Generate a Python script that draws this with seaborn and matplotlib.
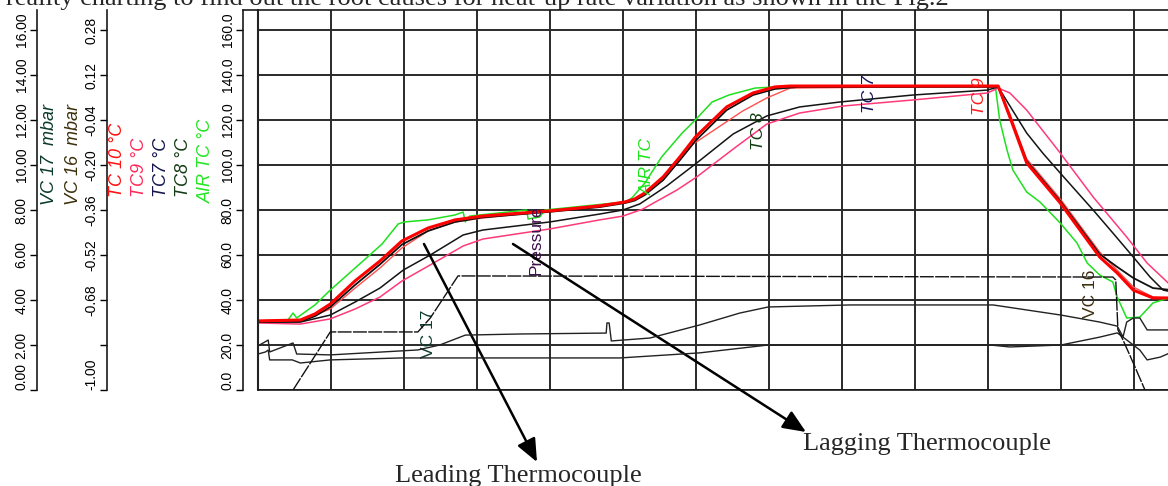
import numpy as np
import pandas as pd
import seaborn as sns
import matplotlib.pyplot as plt

# time in chart divisions (one grid square = one division)
t_tc10 = [0, 0.58, 0.78, 0.99, 1.33, 1.67, 1.97, 2.33, 2.70, 3.07, 4.00, 4.68, 5.03, 5.16, 5.30, 5.55,
          5.78, 5.99, 6.42, 6.78, 7.08, 7.29, 10.14, 10.30, 10.53, 10.99, 11.53, 11.77, 11.99, 12.26, 12.52]
tc10 = [30.7, 31.1, 33.8, 38.2, 48.5, 57.3, 66.2, 72.0, 75.6, 77.3, 79.6, 81.8, 83.6, 84.9, 87.6, 94.7,
        103.6, 112.4, 125.8, 132.0, 134.7, 135.1, 135.1, 121.3, 100.9, 83.1, 59.1, 52.0, 44.4, 40.9, 40.9]

t_tc_spare = [0, 0.58, 0.99, 1.33, 1.67, 1.97, 2.33, 2.70, 3.07, 4.00, 5.03, 5.23, 5.55, 5.96, 6.33, 6.64,
              6.97, 7.29, 10.14, 10.30, 10.53, 10.99, 11.53, 11.99, 12.26, 12.52]
tc_spare = [30.7, 30.7, 36.0, 45.3, 54.2, 63.1, 70.7, 74.7, 76.4, 79.6, 83.6, 85.8, 93.3, 109.3, 117.3, 124.0,
            129.8, 134.2, 135.1, 122.7, 102.7, 84.9, 61.3, 45.8, 41.3, 40.9]

t_tc7 = [0, 0.58, 0.78, 0.99, 1.33, 1.67, 1.97, 2.33, 2.70, 3.07, 4.00, 4.68, 5.03, 5.16, 5.30, 5.55,
         5.78, 5.99, 6.42, 6.78, 7.08, 7.40, 10.14, 10.30, 10.53, 10.99, 11.53, 11.77, 11.99, 12.26, 12.52]
tc7 = [30.2, 30.4, 32.8, 36.9, 46.7, 55.8, 64.6, 70.7, 74.7, 76.7, 79.2, 81.3, 83.1, 84.2, 86.7, 93.3,
       102.2, 110.7, 124.4, 131.1, 133.8, 134.7, 134.7, 121.5, 101.8, 84.0, 60.4, 54.7, 49.8, 45.3, 44.4]

t_tc8 = [0, 0.58, 0.99, 1.33, 1.67, 1.99, 2.36, 2.81, 3.08, 4.00, 4.68, 5.00, 5.23, 5.60, 6.01, 6.51,
         6.97, 7.42, 7.97, 8.97, 9.99, 10.14, 10.19, 10.53, 10.75, 10.99, 11.44, 11.71, 11.99, 12.22, 12.40, 12.52]
tc8 = [30.2, 30.2, 33.3, 39.1, 45.3, 53.3, 60.0, 68.9, 71.1, 74.7, 78.2, 80.0, 82.7, 90.7, 100.9, 113.8,
       121.8, 125.8, 128.0, 131.1, 133.3, 134.7, 132.0, 114.2, 105.3, 96.4, 80.0, 69.8, 59.1, 50.2, 44.4, 43.6]

t_tc9 = [0, 0.58, 0.99, 1.33, 1.67, 1.97, 2.36, 2.81, 3.08, 4.00, 4.68, 5.00, 5.27, 5.74, 6.01, 6.51,
         6.97, 7.42, 8.01, 8.97, 9.99, 10.14, 10.30, 10.53, 10.99, 11.44, 11.90, 12.18, 12.52]
tc9 = [29.8, 29.3, 31.6, 36.0, 41.3, 48.4, 55.6, 64.0, 67.1, 71.6, 75.6, 77.3, 80.4, 88.9, 94.7, 107.1,
       118.2, 123.1, 126.2, 128.9, 132.0, 134.2, 132.0, 124.4, 105.3, 85.8, 68.0, 56.4, 46.0]

t_air = [0, 0.41, 0.48, 0.53, 0.78, 0.99, 1.33, 1.70, 1.92, 2.01, 2.33, 2.70, 2.81, 2.84, 2.90, 3.68,
         3.70, 3.86, 3.93, 5.03, 5.12, 5.30, 5.53, 5.81, 5.99, 6.22, 6.45, 6.81, 7.32, 10.10, 10.16, 10.26,
         10.34, 10.53, 10.71, 10.99, 11.22, 11.36, 11.53, 11.71, 11.77, 11.90, 12.08, 12.26, 12.52]
air = [30.7, 31.1, 34.2, 32.0, 37.8, 44.4, 54.2, 64.9, 73.8, 74.7, 75.6, 77.8, 79.1, 74.7, 77.3, 80.0,
       76.0, 76.9, 80.0, 83.6, 85.3, 92.0, 103.6, 114.2, 120.0, 128.0, 131.1, 134.2, 135.1, 135.1, 120.0, 106.7,
       97.8, 88.0, 83.6, 74.2, 65.3, 56.4, 51.1, 48.0, 41.3, 32.0, 32.4, 38.7, 41.3]

# vacuum channels (mbar)
t_vc17 = [0.48, 0.99, 2.19, 2.36, 2.74, 11.71, 11.75, 11.78, 11.85, 11.99, 12.15]
vc17 = [0.0, 2.58, 2.58, 3.20, 5.07, 5.02, 4.89, 2.67, 2.22, 1.20, 0.0]

t_vc16 = [0, 0.14, 0.16, 0.48, 0.53, 0.99, 2.19, 2.49, 2.84, 3.60, 4.77, 4.78, 4.81, 4.84, 5.37, 6.05,
          6.60, 6.99, 8.11, 10.07, 11.00, 11.53, 11.77, 11.85, 11.90, 11.99, 12.08, 12.18, 12.52]
vc16 = [1.96, 2.22, 1.69, 2.09, 1.60, 1.56, 1.78, 2.00, 2.44, 2.49, 2.53, 2.98, 2.98, 2.18, 2.31, 2.89,
        3.42, 3.69, 3.78, 3.78, 3.33, 3.02, 2.84, 2.36, 3.02, 3.20, 3.20, 2.67, 2.67]

# pressure (bar)
t_pres = [0, 0.10, 0.14, 0.16, 0.47, 0.58, 0.99, 1.97, 2.70, 4.96, 6.05, 6.99, 10.03, 10.30, 11.00,
          11.53, 11.77, 11.85, 12.08, 12.18, 12.36, 12.52]
pres = [-0.872, -0.865, -0.858, -0.893, -0.893, -0.904, -0.893, -0.886, -0.886, -0.886, -0.868, -0.840,
        -0.840, -0.847, -0.840, -0.812, -0.797, -0.812, -0.858, -0.893, -0.883, -0.865]

temp_ticks = np.arange(0, 161, 20)
vc_ticks = np.arange(0, 17, 2)
pres_ticks = np.round(-1 + 0.16 * np.arange(9), 2)

sns.set_style("white")
plt.rcParams['font.family'] = ['Liberation Sans', 'DejaVu Sans']

W, H = 1168, 486
fig = plt.figure(figsize=(W / 100, H / 100), dpi=100)


def fx(px):
    return px / W


def fy(py):
    return 1 - py / H


ax = fig.add_axes([fx(258), fy(390), (1172 - 258) / W, (390 - 10) / H])
ax_p = ax.twinx()
ax_v = ax.twinx()

# temperatures
sns.lineplot(x=t_air, y=air, ax=ax, color='#1fe01f', linewidth=1.1, sort=False, estimator=None)
sns.lineplot(x=t_tc9, y=tc9, ax=ax, color='#ff3a78', linewidth=1.1, sort=False, estimator=None)
sns.lineplot(x=t_tc8, y=tc8, ax=ax, color='#141414', linewidth=1.1, sort=False, estimator=None)
sns.lineplot(x=t_tc_spare, y=tc_spare, ax=ax, color='#ff5050', linewidth=1.0, sort=False, estimator=None)
sns.lineplot(x=t_tc7, y=tc7, ax=ax, color='#111111', linewidth=1.3, sort=False, estimator=None)
sns.lineplot(x=t_tc10, y=tc10, ax=ax, color='#ff0000', linewidth=2.2, sort=False, estimator=None)

# vacuum and pressure
sns.lineplot(x=t_vc17, y=vc17, ax=ax_v, color='#111111', linewidth=1.0, sort=False, estimator=None,
             linestyle=(0, (10, 1)))
sns.lineplot(x=t_vc16, y=vc16, ax=ax_v, color='#222222', linewidth=1.0, sort=False, estimator=None)
sns.lineplot(x=t_pres, y=pres, ax=ax_p, color='#222222', linewidth=1.0, sort=False, estimator=None)

xmax = (1172 - 258) / 73
ytop = 380 / 2.25
for a in (ax, ax_p, ax_v):
    a.set_xlim(0, xmax)
    a.set_xlabel('')
    a.set_ylabel('')
ax.set_ylim(0, ytop)
ax_v.set_ylim(0, ytop / 10)
ax_p.set_ylim(-1, -1 + ytop * 0.008)

# grid
ax.set_xticks(np.arange(0, 13))
ax.tick_params(axis='x', length=0, labelbottom=False)
ax.set_yticks(temp_ticks)
ax.grid(True, color='#2a2a2a', linewidth=1.4)
ax.set_axisbelow(True)
ax.axvline(0, color='#222222', linewidth=1.5, clip_on=False)

ax.set_yticklabels([f'{v:.1f}' for v in temp_ticks])
ax_v.set_yticks(vc_ticks)
ax_v.set_yticklabels([f'{v:.2f}' for v in vc_ticks])
ax_p.set_yticks(pres_ticks)
ax_p.set_yticklabels(['' if abs(v + 0.84) < 1e-6 else f'{v:.2f}' for v in pres_ticks])

for a in (ax_p, ax_v):
    for s in ('top', 'right', 'bottom'):
        a.spines[s].set_visible(False)
    a.spines['left'].set_visible(True)
    a.yaxis.set_ticks_position('left')
    a.yaxis.set_label_position('left')
    a.grid(False)
ax.spines['right'].set_visible(False)
ax.spines['left'].set_position(('axes', (243 - 258) / 914))
ax_p.spines['left'].set_position(('axes', (107 - 258) / 914))
ax_v.spines['left'].set_position(('axes', (37 - 258) / 914))

for a in (ax, ax_p, ax_v):
    for s in a.spines.values():
        s.set_color('#1a1a1a')
        s.set_linewidth(1.2)
    a.tick_params(axis='y', direction='out', length=5, width=1, pad=1, labelsize=10,
                  labelrotation=90, colors='black')
    labs = a.get_yticklabels()
    for lab in labs:
        lab.set_va('center')
    labs[0].set_va('bottom')

# short frame piece between the temperature axis and the plot
fig.add_artist(plt.Line2D([fx(243), fx(258)], [fy(10), fy(10)], color='#1a1a1a', linewidth=1.2))

# channel names at left
left_names = [("VC 17  mbar", 49, 205, '#0b3a2c'),
              ("VC 16  mbar", 73, 205, '#3b2f0c'),
              ("TC 10 °C", 117, 197, '#ff1010'),
              ("TC9 °C", 140, 197, '#ff2a5a'),
              ("TC7 °C", 161, 197, '#15154f'),
              ("TC8 °C", 183, 197, '#143c14'),
              ("AIR TC °C", 206, 203, '#22e622')]
for txt, px, py, col in left_names:
    fig.text(fx(px), fy(py), txt, rotation=90, ha='center', va='bottom', color=col,
             fontsize=13, style='italic')

# labels on the curves
curve_names = [("VC 17", 2.33, 14.2, '#0d3b2e', 'normal'),
               ("Pressure", 3.81, 51.1, '#3b0f4a', 'normal'),
               ("AIR TC", 5.33, 86.7, '#19e619', 'italic'),
               ("TC 8", 6.85, 106.7, '#0f3d0f', 'italic'),
               ("TC 7", 8.37, 123.1, '#14145a', 'italic'),
               ("TC 9", 9.89, 122.2, '#ff1a1a', 'italic'),
               ("VC 16", 11.40, 32.0, '#3d3010', 'normal')]
for txt, x, y, col, st in curve_names:
    ax.text(x, y, txt, rotation=90, ha='center', va='bottom', color=col, fontsize=12.5, style=st)

serif = ['Liberation Serif', 'DejaVu Serif']
fig.text(fx(6), fy(5), "reality charting to find out the root causes for heat-up rate variation as shown in the Fig.2",
         family=serif, fontsize=19, va='baseline', ha='left')
fig.text(fx(395), fy(482), "Leading Thermocouple", family=serif, fontsize=19, va='baseline', ha='left')
fig.text(fx(803), fy(450), "Lagging Thermocouple", family=serif, fontsize=19, va='baseline', ha='left')

arrow = dict(arrowstyle='-|>,head_length=0.7,head_width=0.3', mutation_scale=20, lw=1.8,
             color='black', shrinkA=0, shrinkB=0)
ax.annotate('', xy=(fx(537), fy(462)), xytext=(fx(424), fy(244)), xycoords='figure fraction',
            textcoords='figure fraction', arrowprops=arrow, annotation_clip=False)
ax.annotate('', xy=(fx(806), fy(432)), xytext=(fx(513), fy(244)), xycoords='figure fraction',
            textcoords='figure fraction', arrowprops=arrow, annotation_clip=False)

fig.savefig('out.png', dpi=100)
